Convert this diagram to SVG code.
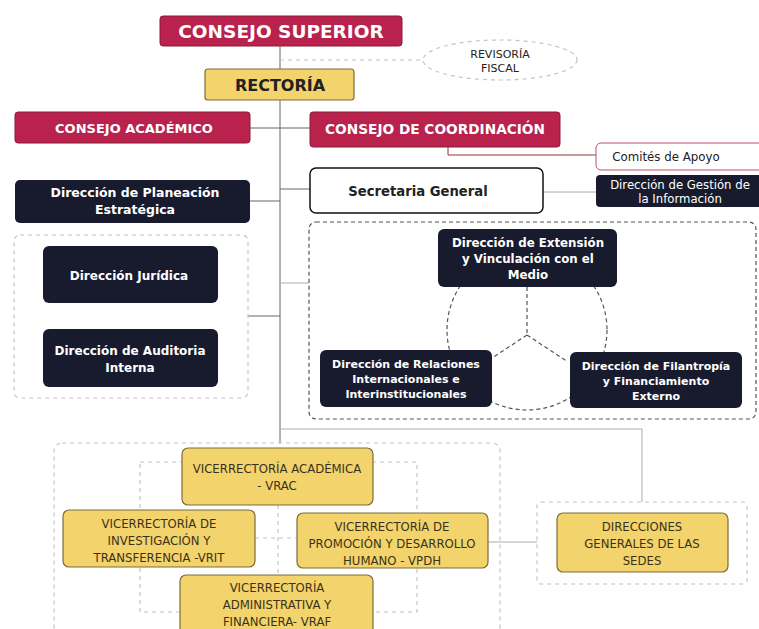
<svg xmlns="http://www.w3.org/2000/svg" width="759" height="629" viewBox="0 0 759 629">
<style>
.crim{fill:#b8224c;stroke:#8e1a3a;stroke-width:1}
.yel{fill:#f3d36c;stroke:#7d6c3a;stroke-width:1.2}
.navy{fill:#181b2d}
.tw{fill:#fff;font-family:"DejaVu Sans",Verdana,sans-serif;font-weight:bold;text-anchor:middle}
.tn{fill:#fff;font-family:"DejaVu Sans",Verdana,sans-serif;font-size:11.7px;text-anchor:middle}
.ty{fill:#3a3218;font-family:"DejaVu Sans Condensed","DejaVu Sans",sans-serif;font-stretch:condensed;font-size:13px;text-anchor:middle}
.tk{fill:#222;font-family:"DejaVu Sans",Verdana,sans-serif;text-anchor:middle}
.ln{fill:none;stroke:#666;stroke-width:1}
.lnl{fill:none;stroke:#aaa;stroke-width:1}
.dsh{fill:none;stroke:#555;stroke-width:1.2;stroke-dasharray:4,3}
.dshl{fill:none;stroke:#c4c4c4;stroke-width:1.2;stroke-dasharray:4,4}
</style>
<rect width="759" height="629" fill="#fff"/>
<g id="connectors">
<line class="ln" x1="280" y1="46" x2="280" y2="443"/>
<line class="dshl" x1="280" y1="60" x2="423" y2="60"/>
<line class="ln" x1="250" y1="128" x2="310" y2="128"/>
<polyline fill="none" stroke="#8a3a3a" stroke-width="1" points="448,147 448,155 596,155"/>
<line class="ln" x1="280" y1="189" x2="310" y2="189"/>
<line class="ln" x1="250" y1="201" x2="280" y2="201"/>
<line class="lnl" x1="543" y1="192" x2="596" y2="192"/>
<line class="ln" x1="248" y1="316" x2="280" y2="316"/>
<line class="lnl" x1="280" y1="283" x2="309" y2="283"/>
<polyline class="lnl" points="280,429 642,429 642,502"/>
<line class="lnl" x1="488" y1="542" x2="537" y2="542"/>
<circle class="dsh" cx="527" cy="330" r="80"/>
<polyline class="dsh" points="527,287 527,335"/>
<polyline class="dsh" points="527,335 492,358"/>
<polyline class="dsh" points="527,335 568,362"/>
<rect class="dshl" x="140" y="462" width="277" height="150"/>
<line class="dshl" x1="278" y1="505" x2="278" y2="575"/>
<line class="dshl" x1="255" y1="538" x2="297" y2="538"/>
</g>
<g id="consejo-superior">
<rect class="crim" x="160" y="16" width="242" height="30" rx="3"/>
<text class="tw" x="281" y="38" font-size="18.5">CONSEJO SUPERIOR</text>
</g>
<g id="revisoria-fiscal">
<ellipse class="dshl" cx="500" cy="60" rx="77" ry="20"/>
<text class="tk" x="500" y="58" font-size="11">REVISORÍA</text>
<text class="tk" x="500" y="72" font-size="11">FISCAL</text>
</g>
<g id="rectoria">
<rect class="yel" x="205" y="69" width="149" height="31" rx="3"/>
<text class="tk" x="280" y="91" font-size="16" font-weight="bold" fill="#2a2410">RECTORÍA</text>
</g>
<g id="consejo-academico">
<rect class="crim" x="15" y="112" width="235" height="31" rx="3"/>
<text class="tw" x="134" y="133" font-size="13">CONSEJO ACADÉMICO</text>
</g>
<g id="consejo-coordinacion">
<rect class="crim" x="310" y="112" width="250" height="35" rx="3"/>
<text class="tw" x="435" y="134" font-size="13.7">CONSEJO DE COORDINACIÓN</text>
</g>
<g id="comites-apoyo">
<rect x="596" y="143" width="170" height="27" rx="5" fill="#fff" stroke="#c0506e" stroke-width="1"/>
<text class="tk" x="666" y="161" font-size="11.8">Comités de Apoyo</text>
</g>
<g id="secretaria-general">
<rect x="310" y="168" width="233" height="45" rx="6" fill="#fff" stroke="#111" stroke-width="1.5"/>
<text class="tk" x="418" y="196" font-size="13.2" font-weight="bold" fill="#111">Secretaria General</text>
</g>
<g id="gestion-informacion">
<rect class="navy" x="596" y="175" width="170" height="32" rx="4"/>
<text class="tn" x="680" y="189">Dirección de Gestión de</text>
<text class="tn" x="680" y="203">la Información</text>
</g>
<g id="planeacion-estrategica">
<rect class="navy" x="15" y="180" width="235" height="43" rx="5"/>
<text class="tw" x="135" y="197" font-size="12.5">Dirección de Planeación</text>
<text class="tw" x="135" y="214" font-size="12.5">Estratégica</text>
</g>
<g id="grupo-juridica-auditoria">
<rect class="dshl" x="14" y="235" width="234" height="163" rx="6"/>
</g>
<g id="direccion-juridica">
<rect class="navy" x="43" y="246" width="175" height="57" rx="6"/>
<text class="tw" x="129" y="280" font-size="12">Dirección Jurídica</text>
</g>
<g id="direccion-auditoria">
<rect class="navy" x="43" y="329" width="175" height="58" rx="6"/>
<text class="tw" x="130" y="355" font-size="12">Dirección de Auditoria</text>
<text class="tw" x="130" y="372" font-size="12">Interna</text>
</g>
<g id="grupo-extension">
<rect class="dsh" x="309" y="222" width="447" height="197" rx="7"/>
</g>
<g id="direccion-extension">
<rect class="navy" x="438" y="229" width="179" height="58" rx="6"/>
<text class="tw" x="528" y="247" font-size="11.8">Dirección de Extensión</text>
<text class="tw" x="528" y="263" font-size="11.8">y Vinculación con el</text>
<text class="tw" x="528" y="279" font-size="11.8">Medio</text>
</g>
<g id="direccion-relaciones">
<rect class="navy" x="320" y="350" width="172" height="57" rx="6"/>
<text class="tw" x="406" y="368" font-size="11">Dirección de Relaciones</text>
<text class="tw" x="406" y="383" font-size="11">Internacionales e</text>
<text class="tw" x="406" y="398" font-size="11">Interinstitucionales</text>
</g>
<g id="direccion-filantropia">
<rect class="navy" x="570" y="352" width="172" height="56" rx="6"/>
<text class="tw" x="656" y="370" font-size="11">Dirección de Filantropía</text>
<text class="tw" x="656" y="385" font-size="11">y Financiamiento</text>
<text class="tw" x="656" y="400" font-size="11">Externo</text>
</g>
<g id="grupo-vicerrectorias">
<rect class="dshl" x="54" y="443" width="446" height="200" rx="8"/>
</g>
<g id="vrac">
<rect class="yel" x="182" y="448" width="191" height="57" rx="6"/>
<text class="ty" x="277" y="473">VICERRECTORÍA ACADÉMICA</text>
<text class="ty" x="277" y="490">- VRAC</text>
</g>
<g id="vrit">
<rect class="yel" x="63" y="510" width="192" height="57" rx="6"/>
<text class="ty" x="159" y="528">VICERRECTORÍA DE</text>
<text class="ty" x="159" y="545">INVESTIGACIÓN Y</text>
<text class="ty" x="159" y="562">TRANSFERENCIA -VRIT</text>
</g>
<g id="vpdh">
<rect class="yel" x="297" y="513" width="191" height="55" rx="6"/>
<text class="ty" x="392" y="531">VICERRECTORÍA DE</text>
<text class="ty" x="392" y="548">PROMOCIÓN Y DESARROLLO</text>
<text class="ty" x="392" y="565">HUMANO - VPDH</text>
</g>
<g id="vraf">
<rect class="yel" x="180" y="575" width="193" height="65" rx="6"/>
<text class="ty" x="277" y="592">VICERRECTORÍA</text>
<text class="ty" x="277" y="609">ADMINISTRATIVA Y</text>
<text class="ty" x="277" y="626">FINANCIERA- VRAF</text>
</g>
<g id="grupo-sedes">
<rect class="dshl" x="537" y="502" width="210" height="82" rx="4"/>
</g>
<g id="direcciones-sedes">
<rect class="yel" x="557" y="513" width="171" height="59" rx="6"/>
<text class="ty" x="642" y="531">DIRECCIONES</text>
<text class="ty" x="642" y="548">GENERALES DE LAS</text>
<text class="ty" x="642" y="565">SEDES</text>
</g>
</svg>
